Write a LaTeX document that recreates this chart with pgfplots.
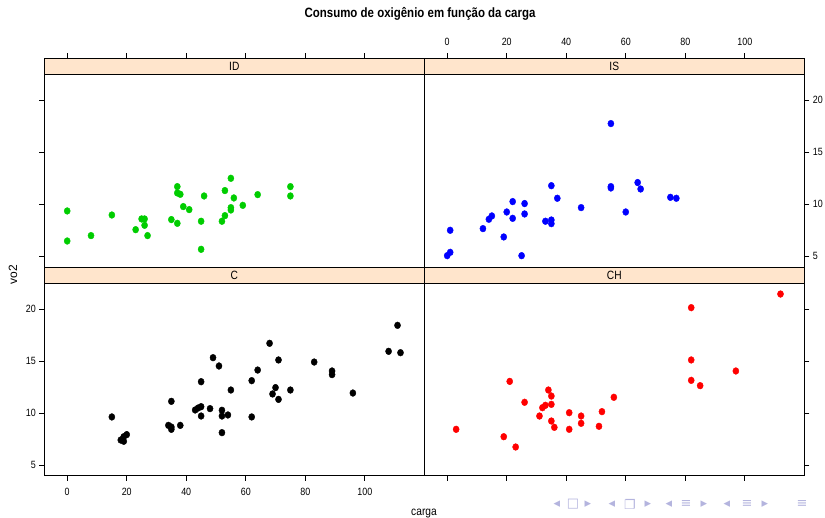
\documentclass[border=0pt]{standalone}
\usepackage{fontspec}
\setmainfont{Liberation Sans}[FakeStretch=0.85]
\newfontfamily\plainsans{Liberation Sans}
\newfontfamily\navfont{DejaVu Sans}
\usepackage{pgfplots}
\pgfplotsset{compat=1.18}

\definecolor{stripbg}{RGB}{255,229,204}
\definecolor{ptgreen}{RGB}{0,205,0}
\definecolor{navcol}{RGB}{180,180,222}

\pgfplotsset{
  panel/.style={
    width=380pt, height=208.7pt, scale only axis,
    anchor=north west,
    xmin=-7.7, xmax=120, ymin=3.97, ymax=24.04,
    xtick={0,20,40,60,80,100}, ytick={5,10,15,20},
    tick align=outside, major tick length=5pt,
    tick style={black, line width=0.6pt},
    axis line style={black, line width=0.8pt},
    axis on top,
    ticklabel style={font=\fontsize{10.5}{12}\selectfont},
    /pgf/number format/assume math mode=true,
  },
  dots/.style={only marks, mark=*, color=#1, mark size=3.4pt,
    mark options={draw=#1, fill=#1, xscale=0.9}},
}

% strip on top of each panel
\newcommand{\strip}[1]{%
  \fill[stripbg] (axis cs:-7.7,22.5) rectangle (axis cs:120,24.04);
  \draw[black, line width=0.8pt] (axis cs:-7.7,22.5) -- (axis cs:120,22.5);
  \node[font=\fontsize{12}{14}\selectfont] at (axis cs:56.15,23.27) {#1};
}

\begin{document}
\begin{tikzpicture}

% --- ID (top left) ---
\begin{axis}[panel, at={(44.3pt,-58.3pt)},
  xtick pos=right, xticklabels={}, ytick pos=left, yticklabels={}]
  \strip{ID}
  \addplot[dots=ptgreen] coordinates {
    (0,9.36) (0,6.47) (8,6.99) (15,8.97) (25,8.59) (26,8.59) (26,7.98)
    (23,7.56) (27,6.99) (35,8.53) (37,8.17) (37,11.70) (37,11.09) (38,10.96)
    (39,9.78) (41,9.49) (45,8.37) (45,5.67) (46,10.80) (52,8.37) (53,8.91)
    (53,11.32) (55,12.5) (55,9.68) (55,9.45) (56,10.61) (59,9.9) (64,10.93)
    (75,11.70) (75,10.80)
  };
\end{axis}

% --- IS (top right) ---
\begin{axis}[panel, at={(424.3pt,-58.3pt)},
  xtick pos=right, xticklabel pos=right, ytick pos=right, yticklabel pos=right,
  xticklabel style={yshift=4pt}]
  \strip{IS}
  \addplot[dots=blue] coordinates {
    (0,5.06) (1,5.38) (1,7.5) (12,7.66) (14,8.56) (15,8.88) (19,6.86)
    (20,9.26) (22,10.26) (22,8.65) (25,5.06) (26,10.07) (26,9.07) (33,8.37)
    (35,8.49) (35,8.14) (35,11.79) (37,10.58) (45,9.68) (55,17.76) (55,11.70)
    (55,11.57) (60,9.26) (64,12.09) (65,11.47) (75,10.67) (77,10.58)
  };
\end{axis}

% --- C (bottom left) ---
\begin{axis}[panel, at={(44.3pt,-267pt)},
  xtick pos=left, ytick pos=left, xticklabel style={yshift=-4pt}]
  \strip{C}
  \addplot[dots=black] coordinates {
    (15,9.62) (18,7.40) (19,7.28) (19,7.72) (20,7.92) (34,8.81) (35,8.65)
    (35,8.43) (35,11.12) (38,8.81) (43,10.29) (44,10.48) (45,10.61) (45,9.71)
    (45,13.01) (48,10.42) (49,15.32) (51,14.52) (52,10.26) (52,9.71) (52,8.11)
    (54,9.81) (55,12.21) (62,13.11) (62,9.62) (64,14.13) (68,16.70) (69,11.83)
    (70,12.44) (71,15.10) (71,11.31) (75,12.21) (83,14.90) (89,14.04)
    (89,13.69) (96,11.92) (108,15.93) (111,18.43) (112,15.80)
  };
\end{axis}

% --- CH (bottom right) ---
\begin{axis}[panel, at={(424.3pt,-267pt)},
  xtick pos=left, xticklabels={}, ytick pos=right, yticklabels={}]
  \strip{CH}
  \addplot[dots=red] coordinates {
    (3,8.43) (19,7.72) (21,13.04) (23,6.73) (26,11.03) (31,9.71) (32,10.51)
    (33,10.74) (34,12.21) (35,11.63) (35,10.83) (35,9.23) (36,8.62) (41,10.03)
    (41,8.43) (45,9.71) (45,9.01) (51,8.72) (52,10.13) (56,11.51) (82,20.13)
    (82,15.10) (82,13.14) (85,12.63) (97,14.04) (112,21.44)
  };
\end{axis}

% titles and labels
\node[font=\bfseries\fontsize{13.5}{15}\selectfont] at (420pt,-14pt)
  {Consumo de oxigênio em função da carga};
\node[font=\fontsize{12}{14}\selectfont] at (424pt,-514pt) {carga};
\node[font=\plainsans\fontsize{12}{14}\selectfont, rotate=90] at (13pt,-275pt) {vo2};

% beamer navigation symbols
\begin{scope}[every node/.style={font=\navfont\fontsize{13}{14}\selectfont, text=navcol}]
  \node at (557pt,-504pt) {◂}; \node at (573pt,-504pt) {□}; \node at (588pt,-504pt) {▸};
  \node at (612pt,-504pt) {◂}; \node at (630pt,-504pt) {❐}; \node at (648pt,-504pt) {▸};
  \node at (669pt,-504pt) {◂}; \node at (686pt,-504pt) {≡}; \node at (704pt,-504pt) {▸};
  \node at (727pt,-504pt) {◂}; \node at (747pt,-504pt) {≡}; \node at (765pt,-504pt) {▸};
  \node at (802pt,-504pt) {≡};
\end{scope}

\pgfresetboundingbox
\path (0,0) rectangle (825pt,-518pt);
\end{tikzpicture}
\end{document}
